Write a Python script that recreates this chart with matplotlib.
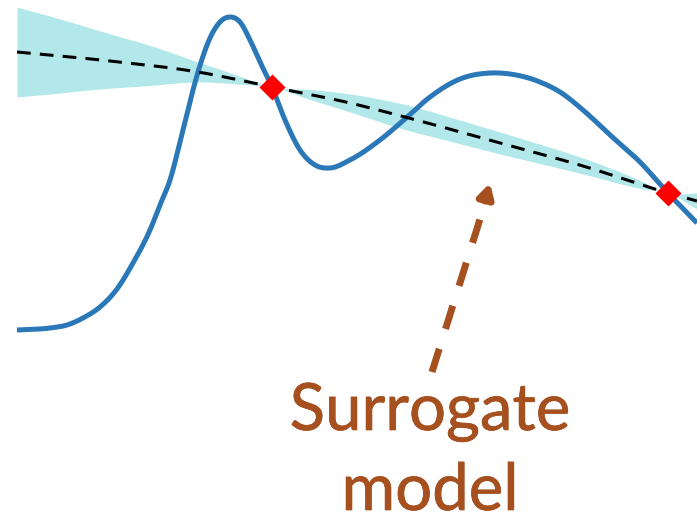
import numpy as np
import matplotlib.pyplot as plt
import matplotlib.patheffects as pe

# true objective (pixel-space, y grows downward)
obj_x = [17, 50, 67, 83, 100, 117, 133, 150, 160, 170, 183, 198, 210, 220, 230, 240, 250, 260, 272,
         285, 300, 315, 330, 350, 380, 405, 430, 460, 490, 510, 540, 560, 583, 610, 640, 668, 697]
obj_y = [330, 328, 325, 318, 307, 289, 263, 230, 205, 180, 130, 72, 38, 22, 17, 22, 40, 62, 87,
         120, 150, 165, 168, 160, 140, 119, 97, 79, 73, 74, 82, 92, 110, 135, 162, 193, 223]

# surrogate mean
mean_x = [17, 110, 198, 272, 350, 405, 500, 583, 668, 697]
mean_y = [52, 61, 72, 87, 103, 117, 143, 166, 193, 201]

# surrogate uncertainty (half-width)
sd_x = [17, 60, 100, 150, 198, 240, 272, 310, 350, 405, 450, 500, 530, 583, 640, 668, 697]
sd_v = [45, 37, 29, 20, 10, 4, 0, 5, 9, 12.5, 12, 11, 10, 8, 4, 0, 8]

# observed samples
obs_x = [272, 668]
obs_y = [87, 193]


def smooth(xk, yk, xs):
    # cubic hermite through the read points
    xk = np.asarray(xk, float)
    yk = np.asarray(yk, float)
    m = np.gradient(yk, xk)
    i = np.clip(np.searchsorted(xk, xs) - 1, 0, len(xk) - 2)
    h = xk[i + 1] - xk[i]
    t = (xs - xk[i]) / h
    h00 = 2 * t**3 - 3 * t**2 + 1
    h10 = t**3 - 2 * t**2 + t
    h01 = -2 * t**3 + 3 * t**2
    h11 = t**3 - t**2
    return h00 * yk[i] + h10 * h * m[i] + h01 * yk[i + 1] + h11 * h * m[i + 1]


xs = np.linspace(17, 697, 800)
ys = smooth(obj_x, obj_y, xs)
mu = smooth(mean_x, mean_y, xs)
sd = np.clip(smooth(sd_x, sd_v, xs), 0, None)

fig = plt.figure(figsize=(6.97, 5.15), dpi=100)
ax = fig.add_axes([0, 0, 1, 1])
ax.set_xlim(0, 697)
ax.set_ylim(515, 0)
ax.axis("off")

ax.fill_between(xs, mu - sd, mu + sd, color="#b3e8ea", lw=0)
ax.plot(xs, ys, color="#2a78b8", lw=3.6, solid_capstyle="butt")
ax.plot(xs, mu, color="black", lw=2.2, dashes=(4.5, 3))
ax.plot(obs_x, obs_y, "D", color="#ff0000", ms=13, mec="none")

arrow_col = "#a5501e"
ax.plot([432, 486], [372, 200], color=arrow_col, lw=5, dashes=(3.5, 3))
ax.annotate("", xy=(490, 183), xytext=(485, 201),
            arrowprops=dict(arrowstyle="-|>,head_length=0.8,head_width=0.45",
                            color=arrow_col, lw=5, shrinkA=0, shrinkB=0))

thick = [pe.withStroke(linewidth=0.5, foreground=arrow_col)]
ax.text(430, 430, "Surrogate", color=arrow_col, fontsize=47, family="Lato",
        ha="center", va="baseline", path_effects=thick)
ax.text(430, 510, "model", color=arrow_col, fontsize=47, family="Lato",
        ha="center", va="baseline", path_effects=thick)

fig.savefig("out.png", dpi=100)
